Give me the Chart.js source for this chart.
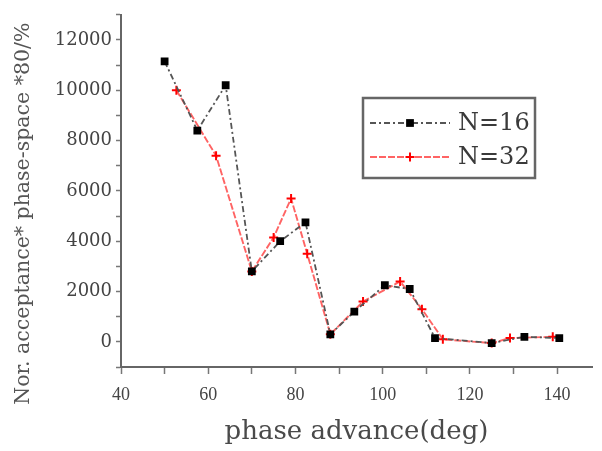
<!DOCTYPE html>
<html><head><meta charset="utf-8">
<script src="https://cdn.jsdelivr.net/npm/chart.js@4/dist/chart.umd.min.js"></script>
<style>html,body{margin:0;padding:0;background:#fff}</style>
</head><body>
<canvas id="c" width="602" height="451" style="display:block;width:602px;height:451px"></canvas>
<script>
// ---- data ----
const phaseAdvanceN16 = [50, 57.5, 64, 70, 76.5, 82.3, 88, 93.5, 100.5, 106.2, 112, 125, 132.5, 140.5];
const acceptanceN16   = [11150, 8400, 10200, 2800, 4000, 4750, 300, 1200, 2250, 2100, 150, -50, 200, 150];
const phaseAdvanceN32 = [52.7, 61.8, 70, 75, 79, 82.7, 88, 95.5, 104, 109, 113.8, 125, 129.2, 139];
const acceptanceN32   = [10000, 7400, 2800, 4150, 5700, 3500, 300, 1600, 2400, 1300, 100, -50, 150, 200];
const seriesLabels = ['N=16', 'N=32'];
const xTickLabels = [40, 60, 80, 100, 120, 140];
const yTickLabels = [0, 2000, 4000, 6000, 8000, 10000, 12000];
const xTitle = 'phase advance(deg)';
const yTitle = 'Nor. acceptance* phase-space *80/%';

const toPoints = (xs, ys) => xs.map((x, i) => ({x, y: ys[i]}));

const legendBox = {
  id: 'legendBox',
  afterDraw(chart) {
    const ctx = chart.ctx;
    ctx.save();
    ctx.strokeStyle = '#666666';
    ctx.lineWidth = 2.5;
    ctx.strokeRect(363, 98, 172, 80);
    const rows = [123, 157];
    chart.data.datasets.forEach((ds, i) => {
      const y = rows[i];
      ctx.save();
      ctx.strokeStyle = ds.borderColor;
      ctx.lineWidth = ds.borderWidth;
      ctx.setLineDash(ds.borderDash || []);
      ctx.beginPath(); ctx.moveTo(370, y); ctx.lineTo(450, y); ctx.stroke();
      ctx.restore();
      ctx.fillStyle = ds.pointBackgroundColor;
      ctx.strokeStyle = ds.pointBorderColor;
      ctx.lineWidth = ds.pointBorderWidth;
      ctx.beginPath();
      if (ds.pointStyle === 'rect') {
        const s = ds.pointRadius * Math.SQRT1_2;
        ctx.fillRect(410 - s, y - s, 2 * s, 2 * s);
      } else {
        ctx.moveTo(410 - ds.pointRadius, y); ctx.lineTo(410 + ds.pointRadius, y);
        ctx.moveTo(410, y - ds.pointRadius); ctx.lineTo(410, y + ds.pointRadius);
        ctx.stroke();
      }
      ctx.fillStyle = '#3a3a3a';
      ctx.font = '24px "DejaVu Serif"';
      ctx.textBaseline = 'middle';
      ctx.textAlign = 'left';
      ctx.fillText(ds.label, 458, y + 1);
    });
    ctx.restore();
  }
};

new Chart(document.getElementById('c'), {
  type: 'line',
  data: {
    datasets: [
      {
        label: seriesLabels[0],
        data: toPoints(phaseAdvanceN16, acceptanceN16),
        borderColor: '#555555', borderWidth: 1.8, borderDash: [6, 3, 2, 3],
        pointStyle: 'rect', pointRadius: 5.5, pointBorderWidth: 0,
        pointBackgroundColor: '#000000', pointBorderColor: '#000000',
        tension: 0, order: 1
      },
      {
        label: seriesLabels[1],
        data: toPoints(phaseAdvanceN32, acceptanceN32),
        borderColor: '#ff6464', borderWidth: 1.9, borderDash: [7, 2],
        pointStyle: 'cross', pointRadius: 4.5, pointBorderWidth: 2,
        pointBackgroundColor: '#ff0000', pointBorderColor: '#ff0000',
        tension: 0, order: 2
      }
    ]
  },
  options: {
    responsive: false, animation: false, devicePixelRatio: 1,
    layout: {padding: {left: 0, right: 10, top: 14, bottom: 0}},
    plugins: {legend: {display: false}, tooltip: {enabled: false}},
    scales: {
      x: {
        type: 'linear', position: 'bottom', min: 40, max: 148,
        afterFit: s => { s.height = 84; },
        border: {color: '#666666', width: 2},
        grid: {drawOnChartArea: false, drawTicks: true, tickLength: 7, tickColor: '#777777', tickWidth: 1.5},
        ticks: {
          stepSize: 10, includeBounds: false, autoSkip: false, maxRotation: 0, padding: 10,
          color: '#444444', font: {family: 'Liberation Serif', size: 18},
          callback: v => xTickLabels.includes(v) ? String(v) : ''
        },
        title: {display: true, text: xTitle, color: '#4a4a4a',
          font: {family: 'DejaVu Serif', size: 26}, padding: {top: 0, bottom: 3}}
      },
      y: {
        type: 'linear', min: -1000, max: 13000,
        afterFit: s => { s.width = 121; },
        border: {color: '#666666', width: 2},
        grid: {drawOnChartArea: false, drawTicks: true, tickLength: 5, tickColor: '#777777', tickWidth: 1.5},
        ticks: {
          stepSize: 1000, includeBounds: false, autoSkip: false, padding: 4,
          color: '#444444', font: {family: 'DejaVu Serif', size: 18},
          callback: v => yTickLabels.includes(v) ? String(v) : ''
        },
        title: {display: true, text: yTitle + ' '.repeat(7), color: '#555555',
          font: {family: 'DejaVu Serif', size: 20.5}, padding: {top: 11, bottom: 0}}
      }
    }
  },
  plugins: [legendBox]
});
</script>
</body></html>
